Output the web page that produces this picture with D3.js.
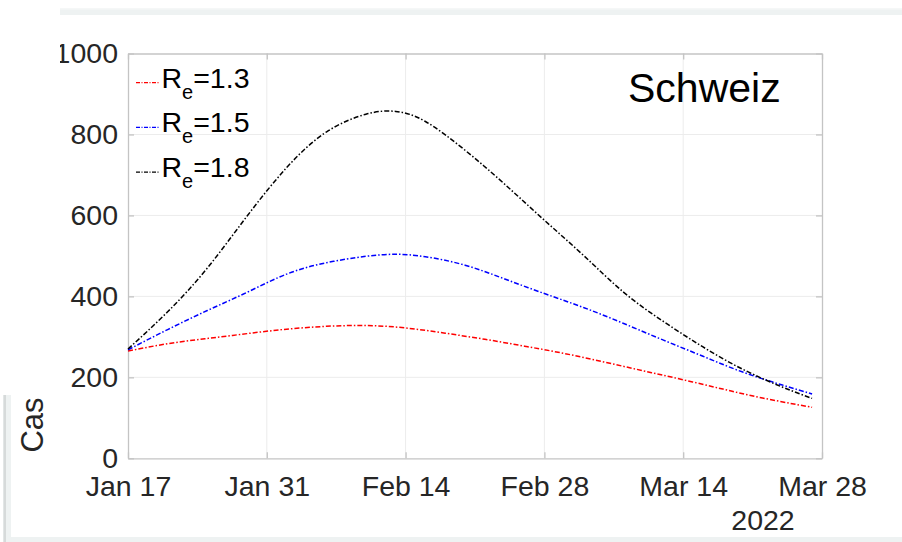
<!DOCTYPE html>
<html><head><meta charset="utf-8">
<script src="https://cdn.jsdelivr.net/npm/d3@7"></script>
<style>html,body{margin:0;padding:0;background:#fff;}svg{display:block;}</style>
</head><body>
<script>
// ---- data ----
const startDate = "2022-01-17";
const days13 = [0,4,8,12,16,20,24,28,32,36,40,44,48,52,56,60,64,69];
const re13   = [265,283,296,308,319,326,328,322,309,294,277,259,238,216,194,171,149,126];
const days15 = [0,4,8,12,16,20,24,27,30,34,38,42,46,50,54,58,62,66,69];
const re15   = [268,318,365,410,455,483,499,504,498,477,443,407,372,333,292,252,213,181,159];
const days18 = [0,4,8,12,16,20,24,27,30,34,38,42,46,50,54,58,62,66,69];
const re18   = [270,362,470,598,718,806,850,857,832,761,677,588,500,410,338,275,220,176,148];
const seriesNames = ["1.3","1.5","1.8"];
const seriesColors = ["#ff0000","#0000ff","#000000"];
const xTickDates = ["2022-01-17","2022-01-31","2022-02-14","2022-02-28","2022-03-14","2022-03-28"];
const yTicks = [0,200,400,600,800,1000];
const yLabel = "Cas";
const title = "Schweiz";
const yearLabel = "2022";

const W = 902, H = 542;
const m = {l:128, r:822, t:53.5, b:458.3};
const svg = d3.select("body").append("svg").attr("width",W).attr("height",H);
const font = "Liberation Sans, Arial, Helvetica, sans-serif";

const parse = d3.utcParse("%Y-%m-%d");
const d0 = parse(startDate);
const toDate = d => d3.utcDay.offset(d0, d);
const x = d3.scaleUtc().domain([parse(xTickDates[0]), parse(xTickDates[xTickDates.length-1])]).range([m.l, m.r]);
const y = d3.scaleLinear().domain([0,1000]).range([m.b, m.t]);

// decorations (screenshot frame)
svg.append("rect").attr("x",60).attr("y",8).attr("width",W-60).attr("height",7).attr("fill","#eef2f2");
svg.append("rect").attr("x",60).attr("y",8).attr("width",W-60).attr("height",1.5).attr("fill","#f5f7f7");
svg.append("rect").attr("x",3).attr("y",395).attr("width",8).attr("height",H-395).attr("fill","#eef2f2");
svg.append("rect").attr("x",3.5).attr("y",395).attr("width",2.5).attr("height",H-395).attr("fill","#d6dada");
svg.append("rect").attr("x",11).attr("y",537).attr("width",W-11).attr("height",5).attr("fill","#eef2f2");

// grid
const g = svg.append("g");
g.selectAll(".gx").data(xTickDates.slice(1,-1)).join("line")
  .attr("x1",d=>x(parse(d))).attr("x2",d=>x(parse(d))).attr("y1",m.t).attr("y2",m.b)
  .attr("stroke","#ececec").attr("stroke-width",1);
g.selectAll(".gy").data(yTicks.slice(1,-1)).join("line")
  .attr("y1",d=>y(d)).attr("y2",d=>y(d)).attr("x1",m.l).attr("x2",m.r)
  .attr("stroke","#ececec").attr("stroke-width",1);

// axes
const axCol = "#c4c4c4";
const xb = svg.append("g").attr("transform",`translate(0,${m.b})`)
  .call(d3.axisBottom(x).tickValues(xTickDates.map(parse)).tickSizeInner(-6).tickSizeOuter(0).tickFormat(d3.utcFormat("%b %d")));
const xt = svg.append("g").attr("transform",`translate(0,${m.t})`)
  .call(d3.axisTop(x).tickValues(xTickDates.map(parse)).tickSizeInner(-6).tickSizeOuter(0).tickFormat(""));
const yl = svg.append("g").attr("transform",`translate(${m.l},0)`)
  .call(d3.axisLeft(y).tickValues(yTicks).tickSizeInner(-6).tickSizeOuter(0).tickFormat(d3.format("d")));
const yr = svg.append("g").attr("transform",`translate(${m.r},0)`)
  .call(d3.axisRight(y).tickValues(yTicks).tickSizeInner(-6).tickSizeOuter(0).tickFormat(""));
[xb,xt,yl,yr].forEach(a=>{
  a.select(".domain").attr("stroke",axCol).attr("stroke-width",1.3);
  a.selectAll(".tick line").attr("stroke",axCol).attr("stroke-width",1.3);
  a.selectAll("text").attr("fill","#262626").attr("font-family",font).attr("font-size",28.5);
});
xb.selectAll("text").attr("dy",0).attr("y",38);
yl.selectAll("text").attr("x",-10).attr("dy","0.33em");

// white area clipping the left of "1000"
svg.append("rect").attr("x",0).attr("y",20).attr("width",60).attr("height",60).attr("fill","#fff");

// lines
const dayArrays = [days13, days15, days18];
const series = [re13, re15, re18];
svg.append("g").selectAll("path").data(series).join("path")
  .attr("d",(d,k)=>d3.line().x((v,i)=>x(toDate(dayArrays[k][i]))).y(v=>y(v)).curve(d3.curveNatural)(d))
  .attr("fill","none")
  .attr("stroke",(d,i)=>seriesColors[i]).attr("stroke-width",1.5)
  .attr("stroke-dasharray","5,2,1.5,2");

// legend
const lg = svg.append("g");
seriesNames.forEach((n,i)=>{
  const yy = 82.7 + i*44.7;
  lg.append("line").attr("x1",136).attr("x2",159).attr("y1",yy).attr("y2",yy)
    .attr("stroke",seriesColors[i]).attr("stroke-width",1.3).attr("stroke-dasharray","4,1.5,1,1.5");
  const t = lg.append("text").attr("x",161.5).attr("y",yy+5).attr("font-family",font).attr("font-size",28.5).attr("fill","#000");
  t.append("tspan").text("R");
  t.append("tspan").attr("font-size",20).attr("dy",11).text("e");
  t.append("tspan").attr("dy",-11).text("=" + n);
});

// title
svg.append("text").attr("x",628).attr("y",102).attr("font-family",font).attr("font-size",41).attr("fill","#000").text(title);

// y label
svg.append("text").attr("transform","translate(43,425) rotate(-90)").attr("text-anchor","middle")
  .attr("font-family",font).attr("font-size",31).attr("fill","#262626").text(yLabel);

// year
svg.append("text").attr("x",763).attr("y",530).attr("text-anchor","middle")
  .attr("font-family",font).attr("font-size",28.5).attr("fill","#262626").text(yearLabel);
</script>
</body></html>
